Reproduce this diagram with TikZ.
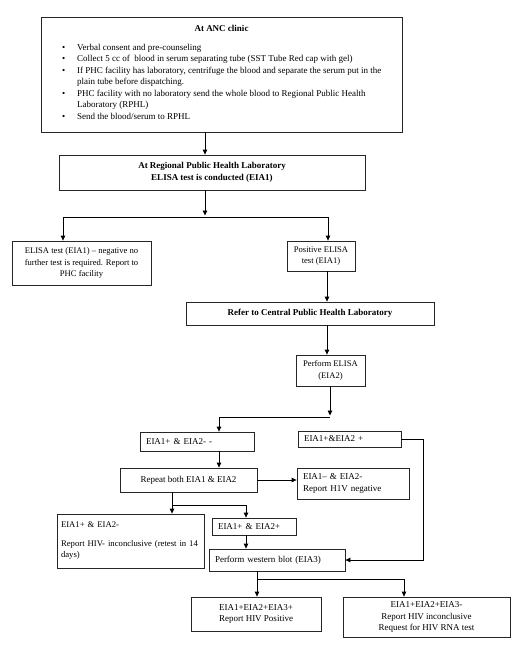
\documentclass[tikz,border=0pt]{standalone}
\usepackage{fontspec}
\setmainfont{Liberation Serif}
\usetikzlibrary{arrows.meta,calc}
\begin{document}
\begin{tikzpicture}[x=1pt,y=-1pt,
  every node/.style={font=\fontsize{9}{11.5}\selectfont},
  box/.style={draw=black!85,line width=0.8pt,rectangle,inner sep=0pt,align=center},
  lbox/.style={draw=black!85,line width=0.8pt,rectangle,inner xsep=6pt,inner ysep=0pt,align=left},
  arr/.style={line width=0.8pt,-{Triangle[length=5pt,width=4.5pt]}},
  ln/.style={line width=0.8pt}]
\useasboundingbox (0,0) rectangle (524,648);
% boxes
\node[box,minimum width=361,minimum height=115] (anc) at (221.5,74.5) {};
\node[anchor=north,font=\fontsize{9}{11.5}\selectfont\bfseries] (anct) at (221.5,22) {At ANC clinic};
\node[anchor=north west,inner sep=0pt] (ancl) at (62,42) {%
  \begin{tabular}{@{}p{15pt}@{}l@{}}
  \textbullet & Verbal consent and pre-counseling\\
  \textbullet & Collect 5 cc of \ blood in serum separating tube (SST Tube Red cap with gel)\\
  \textbullet & If PHC facility has laboratory, centrifuge the blood and separate the serum put in the\\
  & plain tube before dispatching.\\
  \textbullet & PHC facility with no laboratory send the whole blood to Regional Public Health\\
  & Laboratory (RPHL)\\
  \textbullet & Send the blood/serum to RPHL
  \end{tabular}};
\node[box,minimum width=306,minimum height=35,font=\fontsize{9}{12.5}\selectfont\bfseries] (rphl) at (212,172.5) {At Regional Public Health Laboratory\\ELISA test is conducted (EIA1)};
\node[box,minimum width=139,minimum height=44,font=\fontsize{8.6}{11.5}\selectfont] (neg) at (81.5,263) {ELISA test (EIA1) -- negative no\\further test is required. Report to\\PHC facility};
\node[box,minimum width=68,minimum height=30,font=\fontsize{8.6}{11.5}\selectfont] (pos) at (321,256) {Positive ELISA\\test (EIA1)};
\node[box,minimum width=248,minimum height=23,font=\fontsize{9}{11.5}\selectfont\bfseries] (cphl) at (310,313.5) {Refer to Central Public Health Laboratory};
\node[box,minimum width=69,minimum height=31,font=\fontsize{8.6}{11.5}\selectfont] (eia2) at (330.5,370.5) {Perform ELISA\\(EIA2)};
\node[lbox,text width=102,minimum height=19] (mm) at (197,441.5) {EIA1+ \& EIA2- -};
\node[lbox,text width=91,minimum height=16] (pp) at (349.5,439) {EIA1+\&EIA2 +};
\node[box,minimum width=137,minimum height=24] (rep) at (188.5,480) {Repeat both EIA1 \& EIA2};
\node[lbox,text width=100,minimum height=31] (hneg) at (353,483.5) {EIA1-- \& EIA2-\\Report H1V negative};
\node[lbox,inner xsep=4pt,text width=139,minimum height=54,font=\fontsize{8.7}{11.5}\selectfont] (inc14) at (130.5,541) {EIA1+ \& EIA2-\\[7pt]\mbox{Report HIV- inconclusive (retest in 14}\\days)};
\node[lbox,text width=72,minimum height=17] (pp2) at (254,526.5) {EIA1+ \& EIA2+};
\node[lbox,text width=124,minimum height=22] (wb) at (277,560) {Perform western blot (EIA3)};
\node[box,minimum width=130,minimum height=34] (hpos) at (256,614) {EIA1+EIA2+EIA3+\\Report HIV Positive};
\node[box,minimum width=167,minimum height=40] (hinc) at (426.5,617) {EIA1+EIA2+EIA3-\\Report HIV inconclusive\\Request for HIV RNA test};
% junctions
\coordinate (j1) at (205,217);
\coordinate (jl) at (63,217);
\coordinate (jr) at (328,217);
\coordinate (jc) at (327,217);
\coordinate (j2) at (330,417);
\coordinate (j3) at (219,417);
\coordinate (j4) at (172,505);
\coordinate (j5) at (246,505);
\coordinate (j6) at (423,439);
\coordinate (j7) at (257,579);
\coordinate (j8) at (404,579);
% connectors
\draw[arr] (anc.south -| j1) -- (rphl.north -| j1);
\draw[arr] (rphl.south -| j1) -- ($(j1)+(0,-1.5)$);
\draw[ln] (jl) -- (jr);
\draw[arr] (jl) -- (jl |- neg.north);
\draw[arr] (jr) -- (jr |- pos.north);
\draw[arr] (pos.south -| jc) -- (cphl.north -| jc);
\draw[arr] (cphl.south -| jc) -- (eia2.north -| jc);
\draw[arr] (eia2.south -| j2) -- ($(j2)+(0,-1.5)$);
\draw[ln] (j2) -- (j3);
\draw[arr] (j3) -- (j3 |- mm.north);
\draw[arr] (mm.south -| j3) -- (rep.north -| j3);
\draw[arr] (rep.east) -- (rep.east -| hneg.west);
\draw[ln] (rep.south -| j4) -- (j4) -- (j5);
\draw[arr] (j4) -- (j4 |- inc14.north);
\draw[arr] (j5) -- (j5 |- pp2.north);
\draw[arr] (pp2.south -| j5) -- (wb.north -| j5);
\draw[arr] (pp.east) -- (j6) -- (j6 |- wb.east) -- (wb.east);
\draw[ln] (wb.south -| j7) -- (j7) -- (j8);
\draw[arr] (j7) -- (j7 |- hpos.north);
\draw[arr] (j8) -- (j8 |- hinc.north);
\end{tikzpicture}
\end{document}
